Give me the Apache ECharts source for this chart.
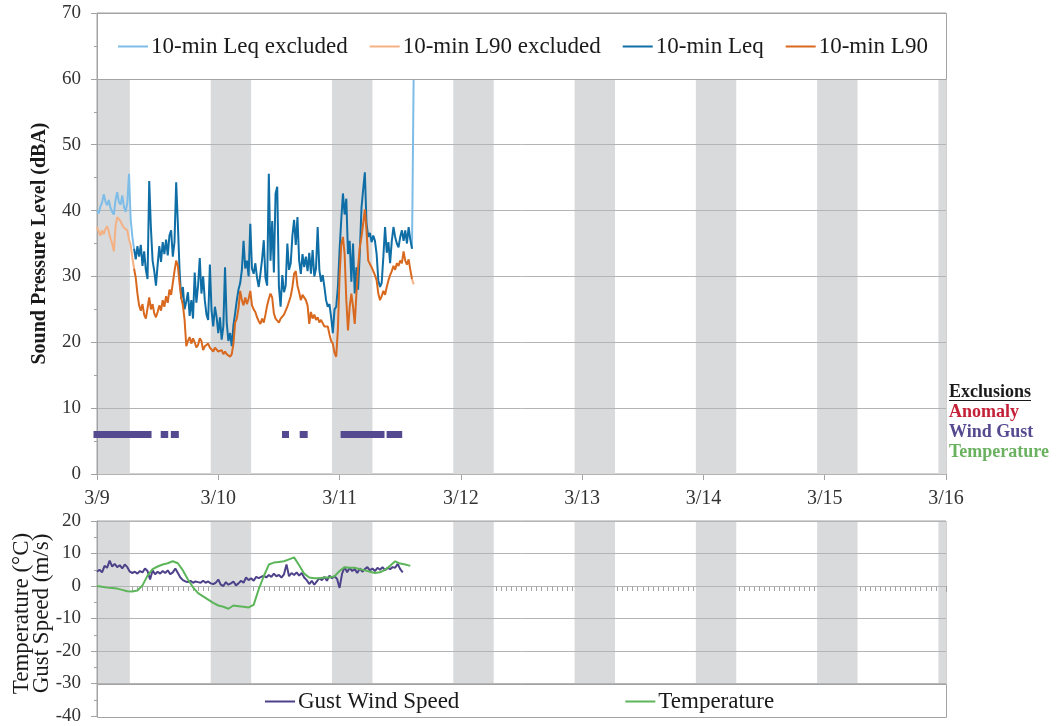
<!DOCTYPE html>
<html>
<head>
<meta charset="utf-8">
<title>Sound Pressure Level and Weather, 3/9 – 3/16</title>
<script src="https://cdn.jsdelivr.net/npm/echarts@6/dist/echarts.min.js"></script>
<style>
  html, body { margin: 0; padding: 0; background: #ffffff; }
  #chart { width: 1061px; height: 726px; }
</style>
</head>
<body>
<div id="chart"></div>
<script>
// ---- Data (time is in hours from 3/9 00:00) ----
const dayLabels = ['3/9', '3/10', '3/11', '3/12', '3/13', '3/14', '3/15', '3/16'];

// Sound levels sampled every 20 minutes (dBA)
const SOUND_STEP_H = 1 / 3;
const leq = [
  40.0, 39.6, 40.6, 41.2, 42.5, 41.4, 40.8, 41.6, 40.4, 39.8, 39.4, 41.6, 42.8, 41.3, 40.9, 42.3, 40.6, 39.8, 41.2, 45.6, 38.6,
  36.0, 34.2, 32.6, 34.6, 33.0, 34.8, 31.6, 33.8, 31.0, 29.6,
  44.5, 37.4, 32.4, 30.8, 28.6, 31.8, 34.6, 32.2, 35.2, 33.4,
  35.6, 33.2, 36.2, 37.0, 33.0, 35.2, 44.3, 38.0, 31.0, 26.6,
  28.4, 25.0, 26.2, 27.6, 24.0, 26.4, 23.6, 30.6, 26.0, 28.6,
  32.8, 27.4, 30.0, 26.4, 24.2, 23.4, 31.8, 24.8, 22.4, 25.4,
  23.8, 21.4, 23.8, 20.4, 22.4, 31.4, 23.0, 20.2, 21.4, 19.4,
  22.6, 24.4, 26.4, 28.0, 29.0, 31.0, 35.4, 31.2, 32.4, 30.0,
  38.0, 31.2, 30.4, 32.0, 29.8, 28.4, 30.4, 32.6, 35.5, 29.8,
  28.6, 45.6, 32.4, 38.4, 30.6, 42.6, 43.6, 28.4, 25.4, 30.2,
  27.6, 28.6, 35.0, 31.0, 32.0, 36.2, 38.6, 34.8, 39.0, 32.4,
  30.4, 33.4, 31.4, 33.0, 30.8, 33.6, 30.4, 34.0, 30.0, 31.2,
  37.5, 31.0, 29.2, 30.2, 28.4, 26.4, 25.4, 25.8, 23.8, 21.4,
  25.0, 25.4, 28.4, 34.0, 38.6, 42.6, 39.4, 41.8, 33.4, 35.4,
  29.2, 35.0, 27.4, 31.4, 28.0, 33.6, 40.4, 43.2, 45.8, 38.0,
  36.0, 36.6, 35.2, 36.2, 35.4, 33.4, 29.4, 28.4, 29.0, 33.0,
  37.5, 33.6, 35.2, 32.0, 35.4, 37.5, 36.0, 35.0, 34.4, 36.0,
  37.0, 35.4, 37.0, 35.0, 37.5, 35.6, 34.2, 61.0
];
const l90 = [
  37.5, 36.8, 36.2, 37.0, 36.4, 37.2, 37.6, 36.8, 35.8, 35.0, 33.8, 37.6, 39.0, 39.2, 38.4, 37.8, 37.4, 37.6, 37.0, 35.6, 34.8,
  32.8, 31.2, 29.8, 27.4, 25.6, 24.8, 25.8, 24.2, 23.6, 25.2,
  26.8, 25.0, 25.8, 24.4, 23.8, 24.6, 25.6, 24.8, 26.4, 25.4,
  27.0, 26.0, 28.0, 27.2, 29.0, 30.8, 32.4, 31.6, 29.0, 26.8,
  25.6, 23.4, 19.4, 20.2, 20.8, 19.8, 20.6, 20.0, 19.2, 19.6,
  20.6, 20.2, 18.8, 19.4, 19.2, 19.8, 19.2, 19.0, 18.6, 19.2,
  19.4, 18.6, 18.4, 18.8, 18.2, 18.6, 18.2, 18.4, 17.8, 18.2,
  19.8, 23.0, 23.6, 25.2, 27.8, 26.4, 25.6, 26.8, 25.8, 26.6,
  27.8, 25.6, 25.0, 24.6, 23.8, 23.2, 22.8, 23.6, 23.0, 24.2,
  25.6, 26.6, 27.4, 26.8, 24.4, 23.6, 23.8, 23.0, 23.6, 23.4,
  24.2, 24.8, 25.4, 26.2, 27.0, 28.4, 30.4, 30.8, 28.6, 27.6,
  26.4, 27.2, 27.4, 26.4, 25.6, 22.8, 24.6, 23.6, 24.2, 23.4,
  23.8, 23.0, 23.4, 23.2, 22.4, 22.2, 22.4, 21.2, 20.2, 19.8,
  18.4, 17.8, 22.0, 30.0, 34.8, 36.0, 33.4, 26.4, 21.8, 25.4,
  27.4, 25.4, 22.8, 27.4, 31.4, 34.4, 36.0, 38.0, 40.2, 37.0,
  32.4, 32.2, 31.4, 30.8, 30.2, 29.4, 27.4, 26.4, 27.0, 27.8,
  27.2, 28.4, 29.4, 30.2, 30.8, 31.6, 31.0, 32.0, 31.6, 32.4,
  32.0, 33.8, 32.4, 31.8, 32.6, 31.0, 29.6, 28.8
];
// Periods (hours) whose sound samples are excluded
const excludedPeriods = [[0, 7.0], [62.6, 62.7]];

// Gust wind speed every 30 minutes (m/s)
const GUST_STEP_H = 0.5;
const gust = [
  4.4, 5.0, 4.2, 6.2, 5.6, 7.8, 6.0, 6.8, 5.8, 6.4,
  5.4, 6.6, 5.8, 4.4, 4.0, 4.4, 3.8, 4.6, 4.2, 5.4,
  4.6, 2.0, 4.8, 3.6, 4.4, 3.8, 4.6, 4.0, 4.8, 3.6,
  4.2, 5.4, 4.0, 2.6, 1.8, 1.4, 1.2, 1.6, 1.0, 1.4,
  1.2, 1.0, 1.6, 1.0, 1.4, 0.8, 0.6, 1.0, 2.0, 0.4,
  0.0, 1.2, 0.4, 0.8, 1.4, 0.2, 0.8, 1.6, 1.0, 2.6,
  1.8, 2.4, 1.6, 2.8, 2.4, 2.8, 3.2, 2.6, 3.4, 2.8,
  3.8, 3.0, 3.4, 2.6, 3.6, 6.6, 3.0, 4.0, 3.4, 4.2,
  3.2, 4.0, 2.6, 1.8, 0.6, 1.6, 0.4, 1.4, 2.4, 1.8,
  2.8, 1.6, 3.2, 2.4, 3.0, 2.2, -0.6, 3.8, 5.8, 4.2,
  5.6, 4.6, 5.2, 4.0, 5.4, 4.4, 5.2, 5.8, 4.8, 5.4,
  4.6, 5.6, 5.0, 5.8, 4.8, 5.6, 5.2, 5.8, 5.6, 6.8,
  5.2, 4.2
];

// Hourly temperature (°C)
const TEMP_STEP_H = 1;
const temperature = [
  0.0, -0.2, -0.5, -0.6, -0.8, -1.2, -1.6, -1.7, -1.4, 0.2,
  3.2, 5.2, 6.0, 6.6, 7.0, 7.6, 7.0, 4.8, 2.0, -0.4,
  -2.2, -3.2, -4.2, -5.2, -6.0, -6.4, -7.0, -6.0, -6.2, -6.4,
  -6.6, -5.8, -1.0, 3.0, 6.6, 7.2, 7.4, 7.6, 8.2, 8.8,
  6.4, 3.8, 2.6, 2.4, 2.4, 2.6, 2.6, 3.0, 4.6, 5.8,
  5.6, 5.6, 5.2, 4.8, 4.4, 4.0, 4.2, 5.0, 6.2, 7.6,
  6.9, 6.6, 6.2
];

// Night-time shading: 22:30 to 06:30
const nightStarts = [-1.5, 22.5, 46.5, 70.5, 94.5, 118.5, 142.5, 166.5];
const NIGHT_LENGTH_H = 8;

// Wind-gust exclusion periods (hours)
const gustExclusions = [[0, 10.1], [13.3, 13.4], [15.3, 15.5], [37.3, 37.3], [40.8, 41.0], [48.9, 56.2], [58.0, 59.7]];

const exclusionKinds = ['Anomaly', 'Wind Gust', 'Temperature'];
const exclusionColors = ['#c42038', '#55498f', '#6ab160'];

// ---- Styling ----
const FONT = "'Liberation Serif', 'DejaVu Serif', serif";
const TEXT = '#333333';
const GRID_LINE = '#b4b4b4';
const AXIS_LINE = '#a3a3a3';
const BAND = '#d9dadc';
const X_MAX = (dayLabels.length - 1) * 24;
const EXCLUSION_ROW = 6;      // dBA level of the exclusion markers
const EXCLUSION_MARK = 7;     // marker thickness in px
const TOP_LAYER = 1;          // canvas layer for legend strips, above the data

const C = {
  leqEx: '#7dbde8', l90Ex: '#f4b183', leq: '#0f6ea6', l90: '#d8691f',
  gust: '#4d4289', temp: '#5db55a'
};

function isExcluded(t) {
  return excludedPeriods.some(([a, b]) => t >= a - 1e-6 && t <= b + 1e-6);
}
function splitByExclusion(values) {
  const main = [], excl = [];
  values.forEach((v, i) => {
    const t = i * SOUND_STEP_H;
    const ex = isExcluded(t);
    const near = ex || (i > 0 && isExcluded((i - 1) * SOUND_STEP_H)) ||
      (i < values.length - 1 && isExcluded((i + 1) * SOUND_STEP_H));
    main.push([t, ex ? null : v]);
    excl.push([t, near ? v : null]);
  });
  return { main, excl };
}
const leqParts = splitByExclusion(leq);
const l90Parts = splitByExclusion(l90);
const toPairs = (vals, step) => vals.map((v, i) => [i * step, v]);

function bandSeries(xAxisIndex, yAxisIndex, yLow, yHigh) {
  return {
    type: 'custom', xAxisIndex, yAxisIndex, z: 1, silent: true,
    data: nightStarts.map(s => [s, s + NIGHT_LENGTH_H]),
    encode: { x: [0, 1] },
    renderItem(params, api) {
      const a = Math.max(api.value(0), 0);
      const b = Math.min(api.value(1), X_MAX);
      const p1 = api.coord([a, yHigh]);
      const p2 = api.coord([b, yLow]);
      return {
        type: 'rect',
        shape: { x: p1[0], y: p1[1], width: p2[0] - p1[0], height: p2[1] - p1[1] },
        style: { fill: BAND }
      };
    }
  };
}

// White framed strip that holds a panel's legend (drawn above the data lines)
function legendFrame(xAxisIndex, yAxisIndex, yLow, yHigh) {
  return {
    type: 'custom', xAxisIndex, yAxisIndex, zlevel: TOP_LAYER, z: 1, silent: true, clip: false,
    data: [[0, X_MAX]], encode: { x: [0, 1] },
    renderItem(params, api) {
      const p1 = api.coord([api.value(0), yHigh]);
      const p2 = api.coord([api.value(1), yLow]);
      return {
        type: 'rect',
        shape: { x: Math.round(p1[0]) + 0.5, y: Math.round(p1[1]) + 0.5,
                 width: Math.round(p2[0] - p1[0]), height: Math.round(p2[1] - p1[1]) },
        style: { fill: '#ffffff', stroke: AXIS_LINE, lineWidth: 1 }
      };
    }
  };
}

function lineSeries(name, data, color, xAxisIndex, yAxisIndex) {
  return {
    name, type: 'line', data, xAxisIndex, yAxisIndex, z: 3,
    showSymbol: false, symbol: 'none', connectNulls: false, animation: false,
    lineStyle: { color, width: 2 }, itemStyle: { color }
  };
}

function xAxes(gridIndex, showLabels, onZeroY) {
  const base = {
    type: 'value', gridIndex, min: 0, max: X_MAX, interval: 24,
    splitLine: { show: false }
  };
  return [
    Object.assign({}, base, {
      axisLine: { show: true, onZero: onZeroY != null, onZeroAxisIndex: onZeroY, lineStyle: { color: AXIS_LINE, width: 1 } },
      axisTick: { show: true, inside: false, length: 6, lineStyle: { color: AXIS_LINE } },
      minorTick: { show: false },
      axisLabel: {
        show: showLabels, margin: 15, fontFamily: FONT, fontSize: 20, color: TEXT,
        formatter: v => dayLabels[Math.round(v / 24)]
      }
    }),
    Object.assign({}, base, {
      axisLine: { show: false, onZero: onZeroY != null, onZeroAxisIndex: onZeroY },
      axisTick: { show: false, inside: true },
      minorTick: { show: true, splitNumber: 24, length: 5, lineStyle: { color: AXIS_LINE } },
      axisLabel: { show: false }
    })
  ];
}

function yAxis(gridIndex, min, max, name, nameGap, nameStyle) {
  return {
    type: 'value', gridIndex, min, max, interval: 10, z: 2,
    name, nameLocation: 'middle', nameRotate: 90, nameGap, nameMoveOverlap: false,
    nameTextStyle: Object.assign({ fontFamily: FONT, color: '#1a1a1a' }, nameStyle),
    axisLine: { show: true, lineStyle: { color: AXIS_LINE } },
    axisTick: { show: true, length: 6, lineStyle: { color: AXIS_LINE } },
    minorTick: { show: true, splitNumber: 2, length: 3, lineStyle: { color: AXIS_LINE } },
    splitLine: { show: true, lineStyle: { color: GRID_LINE, width: 1 } },
    axisLabel: { margin: 16, fontFamily: FONT, fontSize: 19, color: TEXT }
  };
}

const legendText = { fontFamily: FONT, fontSize: 23, color: '#1a1a1a', padding: [0, 0, 0, -2] };
const gridFrame = { show: true, borderColor: AXIS_LINE, borderWidth: 1, backgroundColor: 'transparent', outerBoundsMode: 'none' };

const chart = echarts.init(document.getElementById('chart'));

chart.setOption({
  animation: false,
  backgroundColor: '#ffffff',
  grid: [
    Object.assign({ left: 97, right: 115, top: 13, height: 461 }, gridFrame),
    Object.assign({ left: 97, right: 115, top: 521, height: 195 }, gridFrame)
  ],
  xAxis: [...xAxes(0, true, null), ...xAxes(1, false, 1)],
  yAxis: [
    yAxis(0, 0, 70, 'Sound Pressure Level (dBA)', 47, { fontSize: 20, fontWeight: 'bold' }),
    yAxis(1, -40, 20, 'Temperature (°C)\nGust Speed (m/s)', 45,
      { fontSize: 23, lineHeight: 20, padding: [0, 0, 0, 10] })
  ],
  legend: [
    {
      zlevel: TOP_LAYER, z: 10, left: 113, top: 30, itemGap: 22, itemWidth: 30, itemHeight: 2, icon: 'rect',
      textStyle: legendText,
      data: ['10-min Leq excluded', '10-min L90 excluded', '10-min Leq', '10-min L90']
    },
    {
      zlevel: TOP_LAYER, z: 10, left: 260, top: 685, itemGap: 166, itemWidth: 30, itemHeight: 2, icon: 'rect',
      textStyle: legendText,
      data: ['Gust Wind Speed', 'Temperature']
    }
  ],
  series: [
    bandSeries(0, 0, 0, 60),
    bandSeries(2, 1, -30, 20),
    lineSeries('10-min Leq excluded', leqParts.excl, C.leqEx, 0, 0),
    lineSeries('10-min L90 excluded', l90Parts.excl, C.l90Ex, 0, 0),
    lineSeries('10-min Leq', leqParts.main, C.leq, 0, 0),
    lineSeries('10-min L90', l90Parts.main, C.l90, 0, 0),
    {
      type: 'custom', xAxisIndex: 0, yAxisIndex: 0, z: 3, silent: true, clip: false,
      data: gustExclusions, encode: { x: [0, 1] },
      renderItem(params, api) {
        const p1 = api.coord([api.value(0), EXCLUSION_ROW]);
        const p2 = api.coord([api.value(1), EXCLUSION_ROW]);
        return {
          type: 'rect',
          shape: { x: p1[0] - EXCLUSION_MARK / 2, y: p1[1] - EXCLUSION_MARK / 2,
                   width: p2[0] - p1[0] + EXCLUSION_MARK, height: EXCLUSION_MARK },
          style: { fill: exclusionColors[1] }
        };
      }
    },
    lineSeries('Gust Wind Speed', toPairs(gust, GUST_STEP_H), C.gust, 2, 1),
    lineSeries('Temperature', toPairs(temperature, TEMP_STEP_H), C.temp, 2, 1),
    legendFrame(0, 0, 60, 70),
    legendFrame(2, 1, -40, -30)
  ]
});

// Exclusion key to the right of the sound panel
const keyX = chart.convertToPixel({ gridIndex: 0 }, [X_MAX, 0])[0] + 3;
const keyFont = 'bold 18px ' + FONT;
const measure = document.createElement('canvas').getContext('2d');
measure.font = keyFont;
const headWidth = measure.measureText('Exclusions').width;
const keyTop = 392, keyStep = 20;
const graphics = [
  {
    type: 'text', silent: true,
    style: { x: keyX, y: keyTop, text: 'Exclusions', font: keyFont, fill: '#1a1a1a', verticalAlign: 'middle' }
  },
  {
    type: 'line', silent: true,
    shape: { x1: keyX, y1: keyTop + 8.5, x2: keyX + headWidth, y2: keyTop + 8.5 },
    style: { stroke: '#1a1a1a', lineWidth: 1 }
  }
];
exclusionKinds.forEach((k, i) => {
  graphics.push({
    type: 'text', silent: true,
    style: { x: keyX, y: keyTop + keyStep * (i + 1), text: k, font: keyFont,
             fill: exclusionColors[i], verticalAlign: 'middle' }
  });
});
chart.setOption({ graphic: graphics });
</script>
</body>
</html>
